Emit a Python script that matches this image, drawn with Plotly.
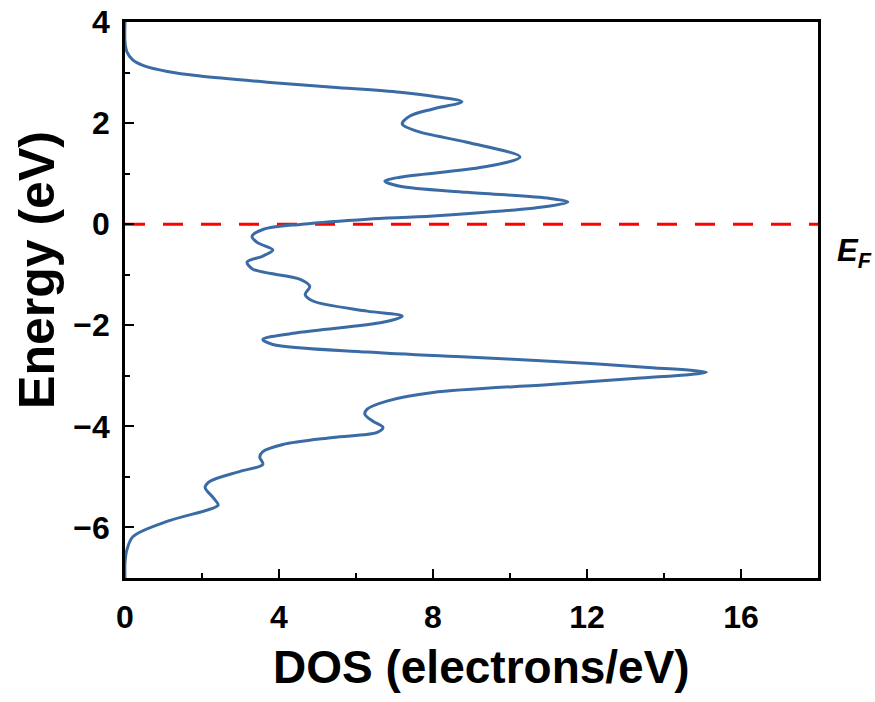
import plotly.graph_objects as go

# Energy (eV) and DOS (electrons/eV)
energy = [4.0, 3.6, 3.41, 3.25, 3.13, 3.02, 2.93, 2.81, 2.71, 2.61, 2.53, 2.42, 2.28, 2.14,
          1.98, 1.84, 1.62, 1.33, 1.13, 0.93, 0.85, 0.75, 0.63, 0.51, 0.44, 0.36, 0.16,
          0.10, 0.0, -0.1, -0.24, -0.36, -0.51, -0.63, -0.75, -0.89, -1.09, -1.23, -1.39,
          -1.52, -1.72, -1.82, -1.94, -2.14, -2.28, -2.38, -2.53, -2.63, -2.71, -2.83,
          -2.93, -3.05, -3.17, -3.33, -3.5, -3.66, -3.76, -3.9, -4.02, -4.12, -4.22,
          -4.36, -4.5, -4.61, -4.75, -4.89, -5.09, -5.21, -5.41, -5.56, -5.64, -5.88,
          -6.18, -6.44, -6.7, -7.0]
dos = [0.0, 0.0, 0.05, 0.2, 0.5, 1.1, 1.95, 3.69, 5.4, 7.14, 8.0, 8.75, 8.0, 7.4,
       7.2, 7.58, 8.88, 10.26, 9.3, 7.14, 6.75, 7.14, 8.88, 11.04, 11.5, 11.04, 8.0,
       6.3, 4.6, 3.6, 3.3, 3.43, 3.84, 3.58, 3.17, 3.32, 4.55, 4.8, 4.68,
       4.88, 6.29, 7.2, 6.7, 4.55, 3.58, 3.84, 6.29, 8.88, 11.04, 13.5,
       15.1, 13.3, 11.04, 8.0, 6.8, 6.29, 6.23, 6.44, 6.7, 6.55, 5.4,
       4.1, 3.58, 3.5, 3.58, 2.99, 2.2, 2.08, 2.29, 2.42, 2.2, 1.09,
       0.21, 0.05, 0.0, 0.0]

x_range = [0, 18]
y_range = [-7, 4]
x_ticks = [0, 4, 8, 12, 16]
y_ticks = [-6, -4, -2, 0, 2, 4]
fermi_level = 0.0

FONT = "Liberation Sans, Arial, sans-serif"

fig = go.Figure()
fig.add_trace(go.Scatter(
    x=[x_range[0], x_range[1]], y=[fermi_level, fermi_level], mode="lines",
    line=dict(color="#ff0000", width=3, dash="20px,18px"), hoverinfo="skip",
    showlegend=False))
fig.add_trace(go.Scatter(
    x=dos, y=energy, mode="lines",
    line=dict(color="#3b6ba5", width=3, shape="spline", smoothing=0.9),
    showlegend=False))

axis_common = dict(
    showline=True, linecolor="black", linewidth=2.5, mirror=True, automargin=False,
    showgrid=False, zeroline=False, ticks="inside", ticklen=9, tickwidth=2,
    tickcolor="black",
    tickfont=dict(family=FONT, size=32, color="black", weight="bold"),
)

fig.update_xaxes(range=x_range, tickvals=x_ticks, ticklabelstandoff=9,
                 minor=dict(ticks="inside", dtick=2, tick0=0, ticklen=5, tickwidth=2,
                            tickcolor="black"),
                 **axis_common)
fig.update_yaxes(range=y_range, tickvals=y_ticks, ticklabelstandoff=6,
                 minor=dict(ticks="inside", dtick=1, tick0=0, ticklen=5, tickwidth=2,
                            tickcolor="black"),
                 **axis_common)

fig.add_annotation(text="DOS (electrons/eV)", xref="paper", yref="paper",
                   x=0.515, y=-0.16, xanchor="center", yanchor="middle", showarrow=False,
                   font=dict(family=FONT, size=46, color="black", weight="bold"))
fig.add_annotation(text="Energy (eV)", xref="paper", yref="paper",
                   x=-0.127, y=0.554, xanchor="center", yanchor="middle", showarrow=False,
                   textangle=-90,
                   font=dict(family=FONT, size=50, color="black", weight="bold"))
fig.add_annotation(text="<b><i>E<sub>F</sub></i></b>", xref="paper", yref="paper",
                   x=1.025, y=0.585, xanchor="left", yanchor="middle", showarrow=False,
                   font=dict(family=FONT, size=31, color="black"))

fig.update_layout(
    width=875, height=702,
    margin=dict(l=125, r=57, t=22, b=124),
    paper_bgcolor="white", plot_bgcolor="white",
)

fig.write_html("out.html")
